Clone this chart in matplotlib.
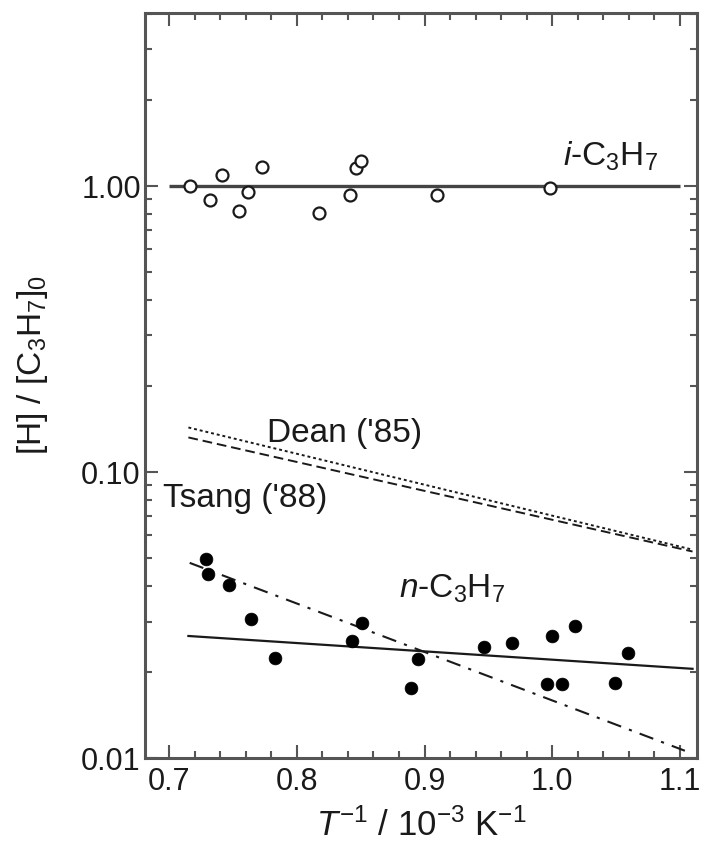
import matplotlib
matplotlib.use("Agg")
import matplotlib.pyplot as plt
from matplotlib.ticker import FixedLocator, LogLocator, MultipleLocator, NullFormatter

plt.rcParams["font.family"] = ["Liberation Sans", "DejaVu Sans"]
plt.rcParams["mathtext.fontset"] = "custom"
plt.rcParams["mathtext.rm"] = "Liberation Sans"
plt.rcParams["mathtext.it"] = "Liberation Sans:italic"
plt.rcParams["mathtext.default"] = "regular"

# i-C3H7 measurements (open circles)
iso_x = [0.716, 0.732, 0.741, 0.755, 0.762, 0.773, 0.817, 0.842, 0.846, 0.850, 0.910, 0.998]
iso_y = [1.00, 0.894, 1.093, 0.816, 0.955, 1.162, 0.803, 0.932, 1.155, 1.219, 0.93, 0.98]

# n-C3H7 measurements (filled circles)
norm_x = [0.729, 0.730, 0.747, 0.764, 0.7825, 0.8435, 0.8514, 0.8898, 0.8946,
          0.9469, 0.9687, 0.9962, 1.0001, 1.0077, 1.0181, 1.0496, 1.0595]
norm_y = [0.0497, 0.0441, 0.0404, 0.0307, 0.0224, 0.0256, 0.0296, 0.0175, 0.0221,
          0.0244, 0.0253, 0.0181, 0.0268, 0.0181, 0.0289, 0.0183, 0.0233]

# Fitted and literature lines (end points)
iso_fit_x = [0.70, 1.10]
iso_fit_y = [1.0, 1.0]
norm_fit_x = [0.715, 1.11]
norm_fit_y = [0.0267, 0.0205]
norm_alt_x = [0.716, 1.104]
norm_alt_y = [0.0481, 0.0106]
dean_x = [0.715, 1.11]
dean_y = [0.143, 0.0535]
tsang_x = [0.715, 1.11]
tsang_y = [0.132, 0.0527]

x_ticks = [0.7, 0.8, 0.9, 1.0, 1.1]
x_ticklabels = ["0.7", "0.8", "0.9", "1.0", "1.1"]
y_ticks = [0.01, 0.10, 1.00]
y_ticklabels = ["0.01", "0.10", "1.00"]

W, H = 702, 854
fig = plt.figure(figsize=(W / 100, H / 100), dpi=100)
ax = fig.add_axes([145 / W, 1 - 759 / H, (697 - 145) / W, (759 - 14) / H])

ink = "#1a1a1a"
spine_c = "#555555"

ax.plot(iso_fit_x, iso_fit_y, color="#444444", lw=2.4, solid_capstyle="butt", zorder=2)
ax.plot(norm_fit_x, norm_fit_y, color=ink, lw=1.6, zorder=2)
ax.plot(norm_alt_x, norm_alt_y, color=ink, lw=1.5, linestyle=(0, (7, 4, 1.5, 4)), zorder=2)
ax.plot(dean_x, dean_y, color=ink, lw=1.4, linestyle=(0, (1.5, 1.5)), zorder=2)
ax.plot(tsang_x, tsang_y, color=ink, lw=1.4, linestyle=(0, (5, 2.5)), zorder=2)

ax.plot(iso_x, iso_y, linestyle="none", marker="o", ms=8.6, mfc="white",
        mec=ink, mew=1.6, zorder=3)
ax.plot(norm_x, norm_y, linestyle="none", marker="o", ms=9.2, mfc="black",
        mec="black", mew=0.5, zorder=3)

ax.set_yscale("log")
ax.set_xlim(0.681, 1.1135)
ax.set_ylim(0.01, 4.02)

ax.xaxis.set_major_locator(FixedLocator(x_ticks))
ax.set_xticklabels(x_ticklabels)
ax.xaxis.set_minor_locator(MultipleLocator(0.02))
ax.yaxis.set_major_locator(FixedLocator(y_ticks))
ax.set_yticklabels(y_ticklabels)
ax.yaxis.set_minor_locator(LogLocator(base=10, subs=range(2, 10)))
ax.yaxis.set_minor_formatter(NullFormatter())

ax.tick_params(which="both", direction="in", top=True, right=True,
               color=spine_c, width=1.5, labelsize=22, labelcolor=ink)
ax.tick_params(which="major", length=9.5, pad=6)
ax.tick_params(which="minor", length=5)
ax.tick_params(axis="y", which="major", pad=3)
for s in ax.spines.values():
    s.set_linewidth(2.2)
    s.set_color(spine_c)

txt = dict(fontsize=24, color=ink, ha="left", va="baseline")
ax.text(1.0087, 1.19, r"$\mathit{i}$-C$_3$H$_7$", **txt)
ax.text(0.7767, 0.1286, "Dean ('85)", **txt)
ax.text(0.6953, 0.0763, "Tsang ('88)", **txt)
ax.text(0.8799, 0.0366, r"$\mathit{n}$-C$_3$H$_7$", **txt)

ax.set_xlabel(r"$\mathit{T}^{-1}$ / 10$^{-3}$ K$^{-1}$", fontsize=25, color=ink, labelpad=8)
ax.set_ylabel(r"[H] / [C$_3$H$_7$]$_0$", fontsize=24, color=ink)
ax.yaxis.set_label_coords(-0.172, 0.529)

fig.savefig("out.png", dpi=100)
